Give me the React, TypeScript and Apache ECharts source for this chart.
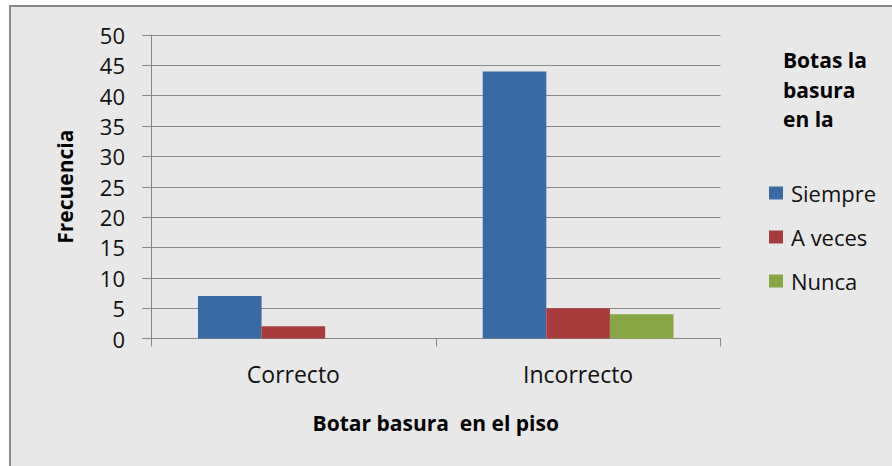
import React, { useEffect, useRef } from "react";
import * as echarts from "echarts";

const categories = ["Correcto", "Incorrecto"];
const seriesNames = ["Siempre", "A veces", "Nunca"];
const siempre = [7, 44];
const aVeces = [2, 5];
const nunca = [0, 4];
const colors = ["#3A6AA6", "#A83B3B", "#87A644"];
const legendTitle = ["Botas la", "basura", "en la"];
const xTitle = "Botar basura  en el piso";
const yTitle = "Frecuencia";

const FONT = "'Open Sans', sans-serif";

export default function App() {
  const ref = useRef<HTMLDivElement>(null);
  useEffect(() => {
    if (!ref.current) return;
    const chart = echarts.init(ref.current, undefined, { renderer: "svg" });
    const values = [siempre, aVeces, nunca];
    chart.setOption({
      animation: false,
      backgroundColor: "#ffffff",
      textStyle: { fontFamily: FONT },
      grid: { left: 151, top: 35, right: 171.5, bottom: 127.5, containLabel: false },
      xAxis: {
        type: "category",
        data: categories,
        name: xTitle,
        nameLocation: "middle",
        nameGap: 74,
        nameTextStyle: { fontFamily: FONT, fontSize: 21, fontWeight: "bold", color: "#000" },
        axisLine: { show: true, lineStyle: { color: "#888", width: 1 } },
        axisTick: { show: true, length: 8, alignWithLabel: false, lineStyle: { color: "#888" } },
        axisLabel: { fontFamily: FONT, fontSize: 23, color: "#111", margin: 24 },
      },
      yAxis: {
        type: "value",
        min: 0,
        max: 50,
        interval: 5,
        name: yTitle,
        nameLocation: "middle",
        nameGap: 76,
        nameRotate: 90,
        nameTextStyle: { fontFamily: FONT, fontSize: 21, fontWeight: "bold", color: "#000" },
        axisLine: { show: true, lineStyle: { color: "#888", width: 1 } },
        axisTick: { show: true, length: 9, lineStyle: { color: "#888" } },
        axisLabel: { fontFamily: FONT, fontSize: 22, color: "#111", margin: 26 },
        splitLine: { show: true, lineStyle: { color: "#8a8a8a", width: 1 } },
      },
      legend: {
        orient: "vertical",
        left: 764,
        top: 177,
        itemWidth: 14,
        itemHeight: 13,
        itemGap: 22,
        icon: "rect",
        data: seriesNames,
        textStyle: { fontFamily: FONT, fontSize: 22, color: "#111", lineHeight: 22, padding: [0, 0, 0, 3] },
      },
      graphic: [
        {
          type: "rect",
          z: -10,
          silent: true,
          shape: { x: 10, y: 6, width: 920, height: 500 },
          style: { fill: "#E8E8E8", stroke: "#888", lineWidth: 2 },
        },
        ...legendTitle.map((t, i) => ({
          type: "text",
          left: 783,
          top: [49, 79, 108][i],
          style: { text: t, fontFamily: FONT, fontSize: 21, fontWeight: "bold", fill: "#000" },
        })),
      ],
      series: seriesNames.map((n, i) => ({
        name: n,
        type: "bar",
        data: values[i],
        barGap: "0%",
        barCategoryGap: "33%",
        itemStyle: { color: colors[i] },
      })),
    });
    return () => chart.dispose();
  }, []);
  return (
    <div
      ref={ref}
      style={{ position: "fixed", left: 0, top: 0, width: 892, height: 466 }}
    />
  );
}
